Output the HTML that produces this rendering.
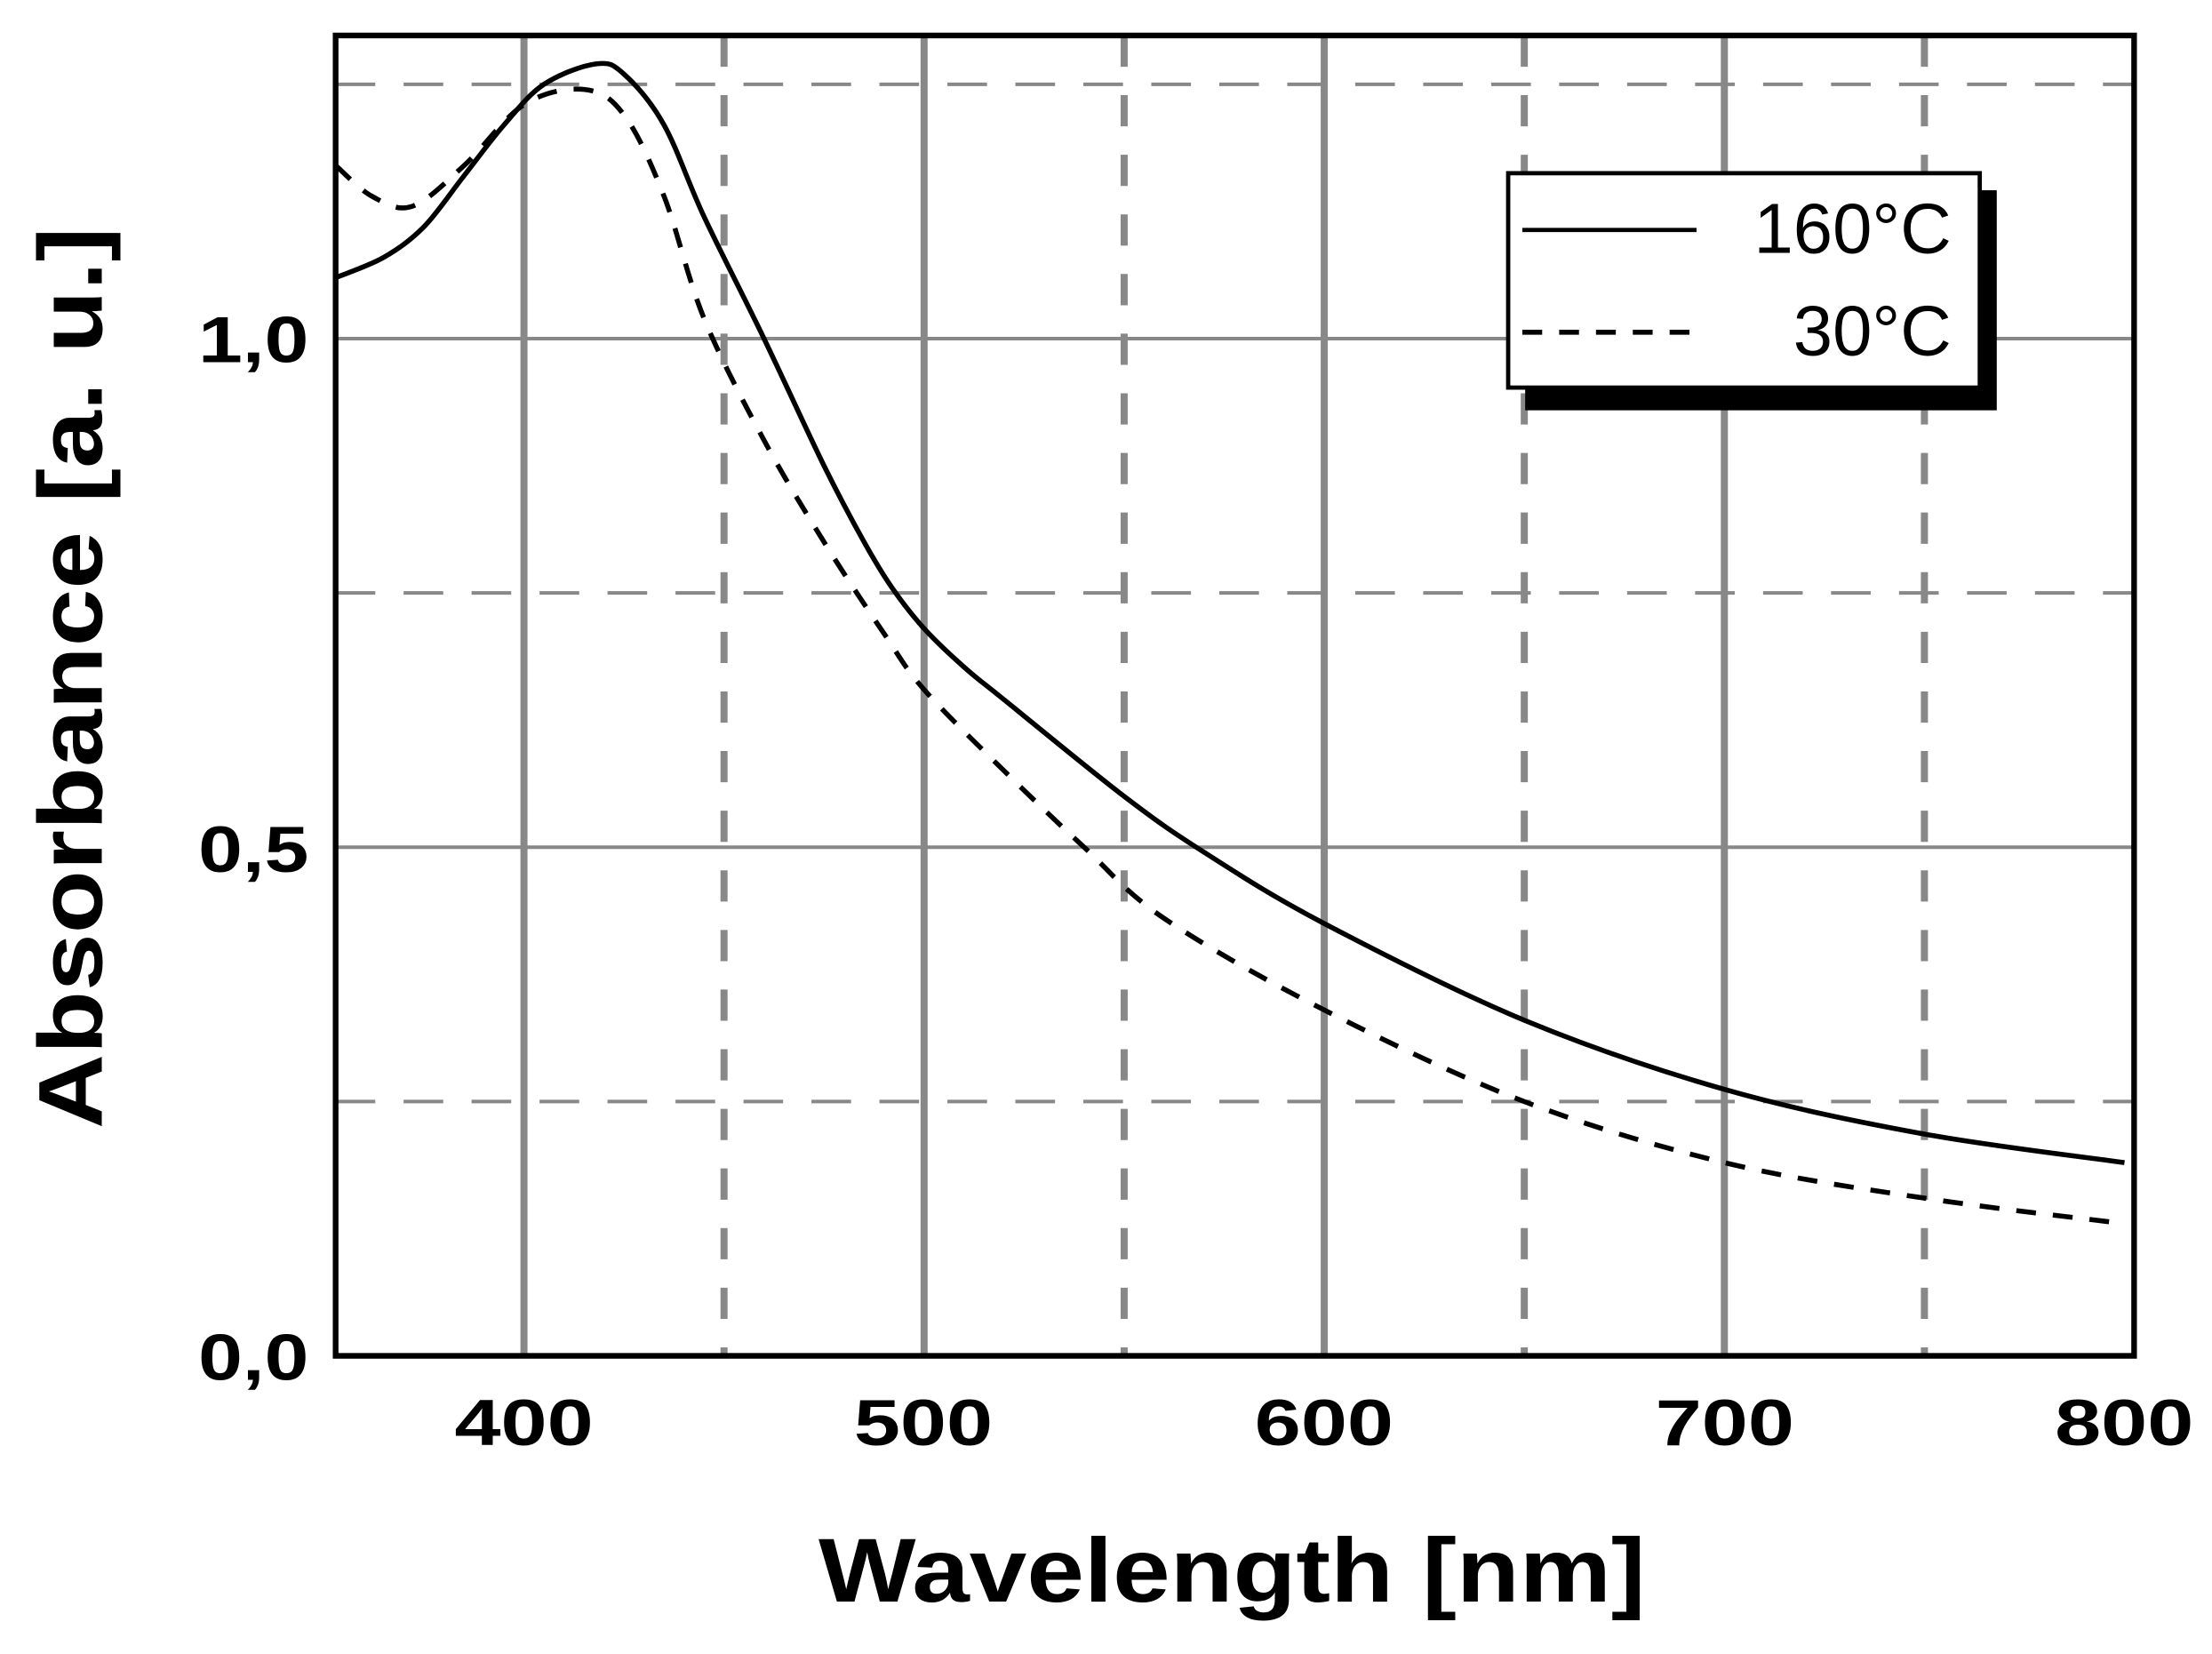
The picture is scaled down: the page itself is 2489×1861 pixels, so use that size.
<!DOCTYPE html>
<html><head><meta charset="utf-8"><style>
html,body{margin:0;padding:0;background:#fff;}
svg{display:block;}
text{font-family:"Liberation Sans",Arial,sans-serif;}
</style></head><body>
<svg id="s" width="2489" height="1861" viewBox="0 0 1562 1165" preserveAspectRatio="none" xmlns="http://www.w3.org/2000/svg">
<rect width="1562" height="1165" fill="#fff"/>
<g id="grid"></g>
<rect x="237" y="25" width="1270" height="930" fill="none" stroke="#000" stroke-width="4"/>
<path id="solid" fill="none" stroke="#000" stroke-width="3.5"/>
<path id="dash" fill="none" stroke="#000" stroke-width="3.5" stroke-dasharray="14,12"/>
<rect x="1077" y="134" width="333" height="155" fill="#000"/>
<rect x="1065" y="122" width="333" height="151" fill="#fff" stroke="#000" stroke-width="3"/>
<line x1="1075" y1="162" x2="1198" y2="162" stroke="#000" stroke-width="3"/>
<line x1="1075" y1="234" x2="1198" y2="234" stroke="#000" stroke-width="3.5" stroke-dasharray="14,12"/>
<text x="1378" y="178" font-size="50" text-anchor="end">160°C</text>
<text x="1378" y="250" font-size="50" text-anchor="end">30°C</text>
<g font-size="46" font-weight="bold" text-anchor="middle">
<text x="370" y="1018" textLength="98" lengthAdjust="spacingAndGlyphs">400</text><text x="652" y="1018" textLength="98" lengthAdjust="spacingAndGlyphs">500</text><text x="935" y="1018" textLength="98" lengthAdjust="spacingAndGlyphs">600</text><text x="1218" y="1018" textLength="98" lengthAdjust="spacingAndGlyphs">700</text><text x="1500" y="1018" textLength="98" lengthAdjust="spacingAndGlyphs">800</text>
</g>
<g font-size="46" font-weight="bold">
<text x="140" y="255" textLength="78" lengthAdjust="spacingAndGlyphs">1,0</text><text x="140" y="614" textLength="78" lengthAdjust="spacingAndGlyphs">0,5</text><text x="140" y="972" textLength="78" lengthAdjust="spacingAndGlyphs">0,0</text>
</g>
<text x="578" y="1128" font-size="64" font-weight="bold" textLength="584" lengthAdjust="spacingAndGlyphs">Wavelength [nm]</text>
<text transform="translate(72,795) rotate(-90)" font-size="64" font-weight="bold" textLength="635" lengthAdjust="spacingAndGlyphs">Absorbance [a. u.]</text>
</svg>
<script>
function X(w){return 370+(w-400)*2.8255;}
function Y(a){return 955-a*716.5;}
var g=document.getElementById('grid'),h='';
[400,500,600,700].forEach(function(w){h+='<line x1="'+X(w)+'" y1="25" x2="'+X(w)+'" y2="955" stroke="#888" stroke-width="5"/>';});
[450,550,650,750].forEach(function(w){h+='<line x1="'+X(w)+'" y1="25" x2="'+X(w)+'" y2="955" stroke="#888" stroke-width="5" stroke-dasharray="22,20"/>';});
[0.5,1.0].forEach(function(a){h+='<line x1="237" y1="'+Y(a)+'" x2="1507" y2="'+Y(a)+'" stroke="#888" stroke-width="2.5"/>';});
[0.25,0.75,1.25].forEach(function(a){h+='<line x1="237" y1="'+Y(a)+'" x2="1507" y2="'+Y(a)+'" stroke="#888" stroke-width="2.5" stroke-dasharray="28,20"/>';});
g.innerHTML=h;
var s=[[353,1.06],[365,1.08],[375,1.11],[385,1.16],[395,1.21],[405,1.25],[418,1.27],[425,1.26],[435,1.21],[445,1.12],[460,1.0],[475,0.875],[485,0.8],[492,0.755],[500,0.715],[510,0.677],[520,0.645],[550,0.55],[570,0.495],[600,0.425],[650,0.33],[700,0.262],[750,0.218],[800,0.19]];
var d=[[353,1.17],[362,1.14],[372,1.13],[385,1.17],[400,1.23],[415,1.245],[425,1.22],[435,1.14],[445,1.02],[460,0.9],[475,0.8],[490,0.71],[500,0.655],[520,0.575],[540,0.5],[560,0.43],[600,0.34],[650,0.25],[700,0.19],[750,0.155],[800,0.13]];
function p(a){var P=a.map(function(q){return [X(q[0]),Y(q[1])];});var r='M'+P[0][0].toFixed(1)+','+P[0][1].toFixed(1);
for(var i=0;i<P.length-1;i++){var p0=P[Math.max(0,i-1)],p1=P[i],p2=P[i+1],p3=P[Math.min(P.length-1,i+2)];
var c1=[p1[0]+(p2[0]-p0[0])/6,p1[1]+(p2[1]-p0[1])/6],c2=[p2[0]-(p3[0]-p1[0])/6,p2[1]-(p3[1]-p1[1])/6];
r+='C'+c1[0].toFixed(1)+','+c1[1].toFixed(1)+' '+c2[0].toFixed(1)+','+c2[1].toFixed(1)+' '+p2[0].toFixed(1)+','+p2[1].toFixed(1);}return r;}
document.getElementById('solid').setAttribute('d',p(s));
document.getElementById('dash').setAttribute('d',p(d));
</script>
</body></html>
